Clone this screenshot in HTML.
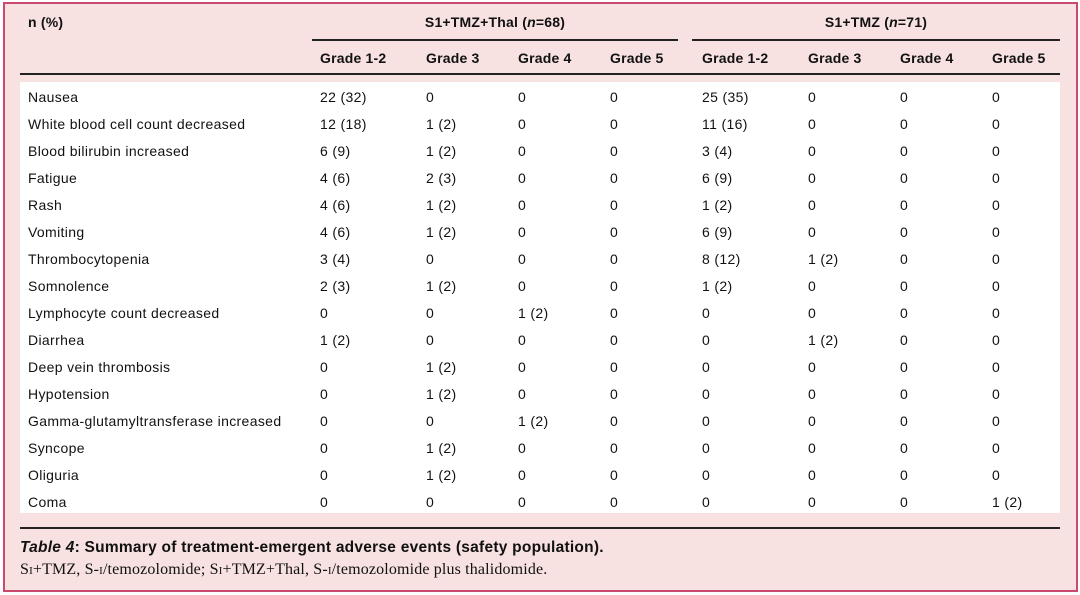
<!DOCTYPE html>
<html><head><meta charset="utf-8"><style>
body{margin:0;width:1080px;height:595px;background:#fff;font-family:"Liberation Sans",sans-serif;color:#111;}
#f{position:absolute;left:3px;top:2px;width:1071px;height:586px;border:2px solid #c94a6e;background:#f7e1e1;}
.t{position:absolute;font-size:14px;white-space:nowrap;line-height:16px;letter-spacing:0.35px;}
.b{font-weight:bold;letter-spacing:0.2px;}
.ln{position:absolute;height:2px;background:#222;}
#w{position:absolute;left:20px;top:82px;width:1040px;height:431px;background:#fff;}
</style></head><body>
<div id="f"></div>
<div id="w"></div>
<div class="t b" style="left:28px;top:14px">n (%)</div>
<div class="t b" style="left:312px;width:366px;text-align:center;top:14px">S1+TMZ+Thal (<i>n</i>=68)</div>
<div class="t b" style="left:692px;width:368px;text-align:center;top:14px">S1+TMZ (<i>n</i>=71)</div>
<div class="ln" style="left:312px;width:366px;top:39px"></div>
<div class="ln" style="left:692px;width:368px;top:39px"></div>
<div class="ln" style="left:20px;width:1040px;top:73px"></div>
<div class="ln" style="left:20px;width:1040px;top:527px"></div>
<div id="hd"></div>
<div id="rows"></div>
<div class="t b" style="left:20px;top:540px;font-size:15.5px;letter-spacing:0.25px"><i>Table 4</i>: Summary of treatment-emergent adverse events (safety population).</div>
<div class="t" style="left:20px;top:562px;font-family:'Liberation Serif',serif;font-size:16px;letter-spacing:0.15px">S<span style="font-variant:small-caps">i</span>+TMZ, S-<span style="font-variant:small-caps">i</span>/temozolomide; S<span style="font-variant:small-caps">i</span>+TMZ+Thal, S-<span style="font-variant:small-caps">i</span>/temozolomide plus thalidomide.</div>
<script>
var xs=[320,426,518,610,702,808,900,992];
var g=["Grade 1-2","Grade 3","Grade 4","Grade 5"];
var h="";
for(var i=0;i<8;i++)h+='<div class="t b" style="left:'+xs[i]+'px;top:50px">'+g[i%4]+'</div>';
document.getElementById("hd").innerHTML=h;
var d=[
["Nausea","22 (32)","0","0","0","25 (35)","0","0","0"],
["White blood cell count decreased","12 (18)","1 (2)","0","0","11 (16)","0","0","0"],
["Blood bilirubin increased","6 (9)","1 (2)","0","0","3 (4)","0","0","0"],
["Fatigue","4 (6)","2 (3)","0","0","6 (9)","0","0","0"],
["Rash","4 (6)","1 (2)","0","0","1 (2)","0","0","0"],
["Vomiting","4 (6)","1 (2)","0","0","6 (9)","0","0","0"],
["Thrombocytopenia","3 (4)","0","0","0","8 (12)","1 (2)","0","0"],
["Somnolence","2 (3)","1 (2)","0","0","1 (2)","0","0","0"],
["Lymphocyte count decreased","0","0","1 (2)","0","0","0","0","0"],
["Diarrhea","1 (2)","0","0","0","0","1 (2)","0","0"],
["Deep vein thrombosis","0","1 (2)","0","0","0","0","0","0"],
["Hypotension","0","1 (2)","0","0","0","0","0","0"],
["Gamma-glutamyltransferase increased","0","0","1 (2)","0","0","0","0","0"],
["Syncope","0","1 (2)","0","0","0","0","0","0"],
["Oliguria","0","1 (2)","0","0","0","0","0","0"],
["Coma","0","0","0","0","0","0","0","1 (2)"]];
h="";
for(var r=0;r<d.length;r++){var y=89+r*27;
h+='<div class="t" style="left:28px;top:'+y+'px">'+d[r][0]+'</div>';
for(var c=0;c<8;c++)h+='<div class="t" style="left:'+xs[c]+'px;top:'+y+'px">'+d[r][c+1]+'</div>';}
document.getElementById("rows").innerHTML=h;
</script>
</body></html>
